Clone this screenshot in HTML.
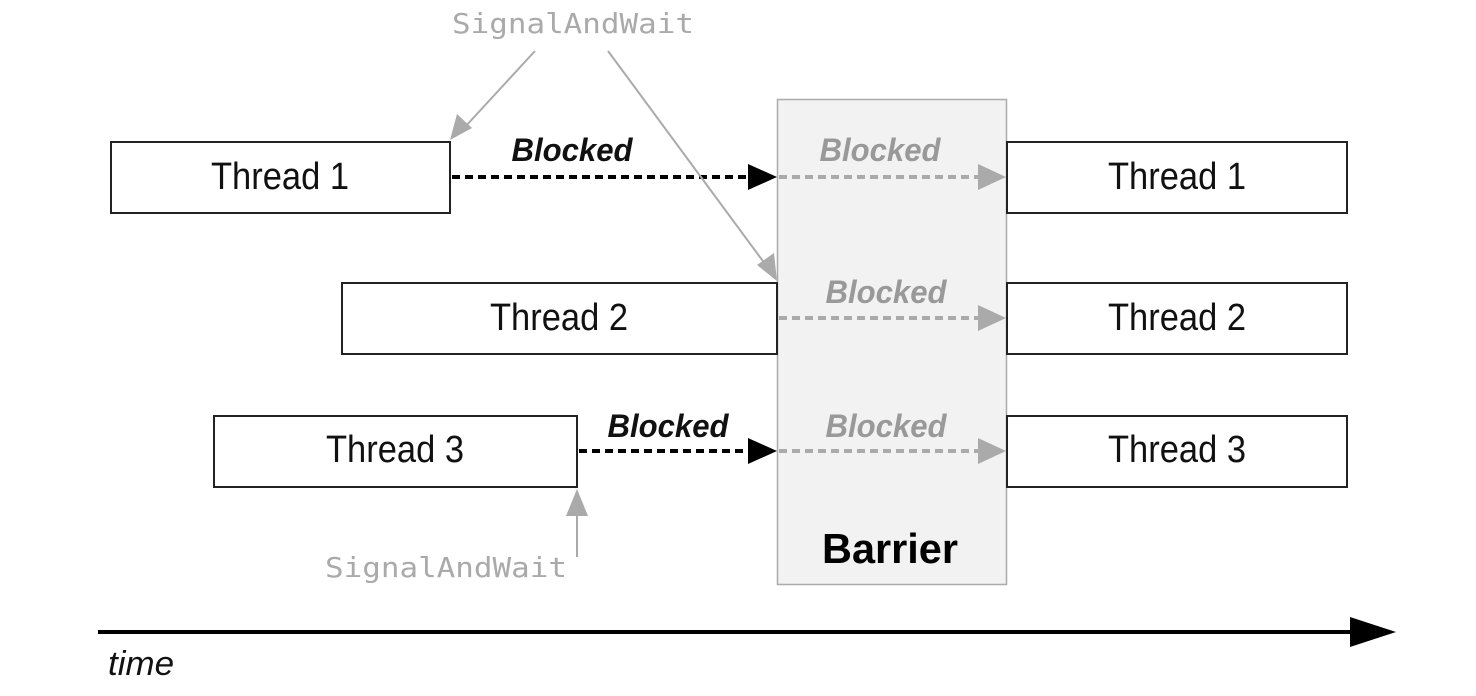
<!DOCTYPE html>
<html><head><meta charset="utf-8"><style>
html,body{margin:0;padding:0;background:#fff;}
svg{display:block;}
text{font-family:"Liberation Sans",Arial,sans-serif;}
.mono{font-family:"DejaVu Sans Mono","Liberation Mono",monospace;}
</style></head><body>
<svg width="1476" height="696" viewBox="0 0 1476 696" xmlns="http://www.w3.org/2000/svg">
<!-- barrier -->
<rect x="777.5" y="99.5" width="229" height="485" fill="#f2f2f2" stroke="#aaa" stroke-width="1.5"/>
<text x="890" y="563" font-size="42" font-weight="bold" text-anchor="middle" textLength="136" lengthAdjust="spacingAndGlyphs">Barrier</text>
<!-- boxes -->
<g fill="#fff" stroke="#222" stroke-width="2">
<rect x="111" y="142" width="339" height="71"/>
<rect x="342" y="283" width="435" height="71"/>
<rect x="214" y="416" width="363" height="71"/>
<rect x="1007" y="142" width="340" height="71"/>
<rect x="1007" y="283" width="340" height="71"/>
<rect x="1007" y="416" width="340" height="71"/>
</g>
<g font-size="38" text-anchor="middle" fill="#111">
<text x="280" y="189" textLength="138" lengthAdjust="spacingAndGlyphs">Thread 1</text>
<text x="559" y="330" textLength="138" lengthAdjust="spacingAndGlyphs">Thread 2</text>
<text x="395" y="462" textLength="138" lengthAdjust="spacingAndGlyphs">Thread 3</text>
<text x="1177" y="189" textLength="138" lengthAdjust="spacingAndGlyphs">Thread 1</text>
<text x="1177" y="330" textLength="138" lengthAdjust="spacingAndGlyphs">Thread 2</text>
<text x="1177" y="462" textLength="138" lengthAdjust="spacingAndGlyphs">Thread 3</text>
</g>
<!-- black dashed arrows -->
<g stroke="#000" stroke-width="4" stroke-dasharray="8,5" fill="none">
<line x1="452" y1="177" x2="748" y2="177"/>
<line x1="579" y1="451" x2="748" y2="451"/>
</g>
<path d="M748,164 L777,177 L748,190 z" fill="#000"/>
<path d="M748,438 L777,451 L748,464 z" fill="#000"/>
<!-- gray dashed arrows -->
<g stroke="#aaa" stroke-width="4" stroke-dasharray="8,5" fill="none">
<line x1="779" y1="177" x2="980" y2="177"/>
<line x1="779" y1="318" x2="980" y2="318"/>
<line x1="779" y1="451" x2="980" y2="451"/>
</g>
<g fill="#aaa">
<path d="M978,164 L1006,177 L978,190 z"/>
<path d="M978,305 L1006,318 L978,331 z"/>
<path d="M978,438 L1006,451 L978,464 z"/>
</g>
<!-- Blocked labels -->
<g font-size="32" font-weight="bold" font-style="italic" text-anchor="middle">
<text x="572" y="161" fill="#111" textLength="121" lengthAdjust="spacingAndGlyphs">Blocked</text>
<text x="668" y="437" fill="#111" textLength="121" lengthAdjust="spacingAndGlyphs">Blocked</text>
<text x="880" y="161" fill="#999" textLength="121" lengthAdjust="spacingAndGlyphs">Blocked</text>
<text x="886" y="303" fill="#999" textLength="121" lengthAdjust="spacingAndGlyphs">Blocked</text>
<text x="886" y="437" fill="#999" textLength="121" lengthAdjust="spacingAndGlyphs">Blocked</text>
</g>
<!-- SignalAndWait -->
<text class="mono" x="452" y="33" font-size="28" fill="#aaa" textLength="242" lengthAdjust="spacingAndGlyphs">SignalAndWait</text>
<text class="mono" x="325" y="577" font-size="28" fill="#aaa" textLength="242" lengthAdjust="spacingAndGlyphs">SignalAndWait</text>
<g stroke="#aaa" stroke-width="2" fill="none">
<line x1="535" y1="51" x2="464" y2="128"/>
<line x1="608" y1="51" x2="768" y2="268"/>
<line x1="577" y1="557" x2="577" y2="505"/>
</g>
<g fill="#aaa">
<path d="M450,140 L457,114 L472,128 z"/>
<path d="M777,281 L757,265 L774,253 z"/>
<path d="M577,489 L566,516 L588,516 z"/>
</g>
<!-- time -->
<line x1="98" y1="632" x2="1355" y2="632" stroke="#000" stroke-width="4"/>
<path d="M1350,617 L1396,632 L1350,647 z" fill="#000"/>
<text x="108" y="675" font-size="34" font-style="italic" fill="#111" textLength="66" lengthAdjust="spacingAndGlyphs">time</text>
</svg>
</body></html>
